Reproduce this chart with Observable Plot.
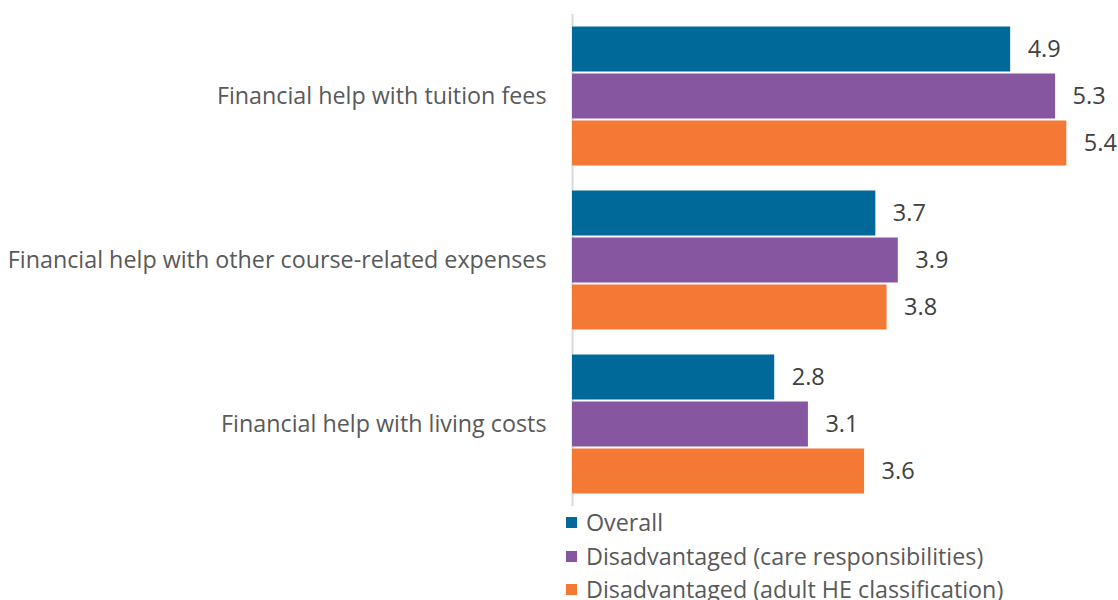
<!DOCTYPE html>
<html>
<head>
<meta charset="utf-8">
<script src="https://cdn.jsdelivr.net/npm/d3@7"></script>
<script src="https://cdn.jsdelivr.net/npm/@observablehq/plot@0.6"></script>
<style>
  html, body { margin: 0; padding: 0; background: #fff; }
  #chart svg { display: block; }
  .legend { margin-left: 566px; font-family: "Open Sans", sans-serif; font-size: 23.3px; color: #595959; }
  .legend .row { height: 33.5px; line-height: 33.5px; display: flex; align-items: center; white-space: nowrap; }
  .legend .sw { width: 11px; height: 11px; margin-right: 9px; flex: none; }
</style>
</head>
<body>
<div id="chart"></div>
<script>
const categories = [
  "Financial help with tuition fees",
  "Financial help with other course-related expenses",
  "Financial help with living costs"
];
const series = [
  "Overall",
  "Disadvantaged (care responsibilities)",
  "Disadvantaged (adult HE classification)"
];
const overall = [4.9, 3.7, 2.8];
const careResponsibilities = [5.3, 3.9, 3.1];
const adultHE = [5.4, 3.8, 3.6];
const colors = ["#00699A", "#8657A0", "#F47935"];
const xDomain = [1, 5.86];

const seriesValues = [overall, careResponsibilities, adultHE];
const data = [];
categories.forEach((c, i) => {
  series.forEach((s, j) => {
    data.push({category: c, series: s, value: seriesValues[j][i]});
  });
});

const plot = Plot.plot({
  width: 1118,
  height: 506,
  marginTop: 14,
  marginBottom: 0,
  marginLeft: 572,
  marginRight: 0,
  style: {fontFamily: "Open Sans, sans-serif", fontSize: "23.3px", color: "#595959", background: "#fff"},
  x: {domain: xDomain, clamp: true, axis: null},
  y: {domain: series, axis: null, paddingInner: 0.0426, paddingOuter: 0.266, round: false},
  fy: {domain: categories, padding: 0, axis: "left", label: null, tickSize: 0, tickPadding: 26, round: false},
  color: {domain: series, range: colors},
  marks: [
    Plot.ruleX([xDomain[0]], {stroke: "#d9d9d9", strokeWidth: 2}),
    Plot.barX(data, {x: "value", y: "series", fy: "category", fill: "series"}),
    Plot.text(data, {
      x: "value", y: "series", fy: "category",
      text: d => d.value.toFixed(1),
      textAnchor: "start", dx: 17, fill: "#404040", fontSize: 23.5
    })
  ]
});
document.getElementById("chart").appendChild(plot);

const legend = document.createElement("div");
legend.className = "legend";
series.forEach((s, i) => {
  const row = document.createElement("div");
  row.className = "row";
  const sw = document.createElement("span");
  sw.className = "sw";
  sw.style.background = colors[i];
  const t = document.createElement("span");
  t.textContent = s;
  row.appendChild(sw);
  row.appendChild(t);
  legend.appendChild(row);
});
document.getElementById("chart").appendChild(legend);
</script>
</body>
</html>
